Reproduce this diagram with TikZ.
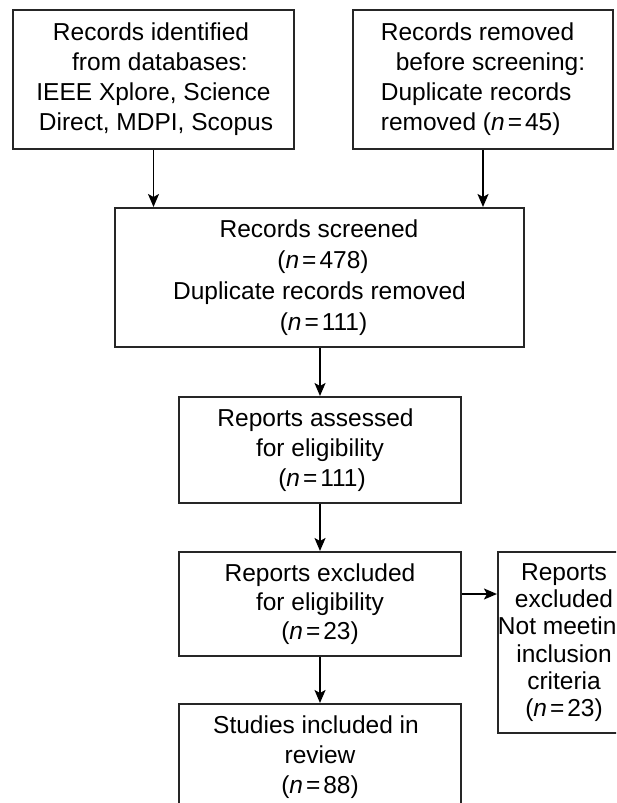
\documentclass[tikz,border=0pt]{standalone}
\usepackage{fontspec}
\setmainfont{Liberation Sans}
\usetikzlibrary{arrows.meta}
\newcommand{\ncount}[1]{(\textit{n}\hspace{3pt}=\hspace{3pt}#1)}
\begin{document}
\begin{tikzpicture}[x=1pt,y=-1pt,
  box/.style={draw=black!85, line width=2pt, inner sep=0pt, align=center,
    font=\fontsize{24.5}{30}\selectfont},
  arr/.style={line width=1.8pt, -{Stealth[length=13pt,width=11pt,inset=3pt]}}]
\clip (0,0) rectangle (616,803);
\fill[white] (0,0) rectangle (616,803);
\node[box, minimum width=281pt, minimum height=139pt] (A) at (153.5,79.5)
  {Records identified\hspace*{5pt}\\\hspace*{13pt}from databases:\\IEEE Xplore, Science\hspace*{7pt}\\\hspace*{5pt}Direct, MDPI, Scopus};
\node[box, align=left, minimum width=260pt, minimum height=139pt] (B) at (483,79.5)
  {Records removed\\\hspace*{15pt}before screening:\hspace*{8pt}\\Duplicate records\\removed \ncount{45}};
\node[box, minimum width=409pt, minimum height=139pt, font=\fontsize{24.5}{31}\selectfont] (S) at (319.5,277.5)
  {Records screened\hspace*{1pt}\\\hspace*{7pt}\ncount{478}\\Duplicate records removed\hspace*{41pt}\\\hspace*{8pt}\ncount{111}};
\node[box, minimum width=282pt, minimum height=106pt] (As) at (320,450)
  {Reports assessed\hspace*{9pt}\\for eligibility\hspace*{11pt}\\\hspace*{4pt}\ncount{111}};
\node[box, minimum width=282pt, minimum height=104pt, font=\fontsize{24.5}{29}\selectfont] (Ex) at (320,604)
  {Reports excluded\\for eligibility\\\ncount{23}};
\node[box, minimum width=130pt, minimum height=181pt, font=\fontsize{24.5}{27.2}\selectfont] (R) at (564,642.5)
  {Reports\\excluded\\Not meeting\\inclusion\\criteria\\\ncount{23}};
\node[box, minimum width=282pt, minimum height=106pt] (St) at (320,757)
  {Studies included in\hspace*{8pt}\\review\\\ncount{88}};
\draw[arr] (A.south) -- (A.south |- S.north);
\draw[arr] (B.south) -- (B.south |- S.north);
\draw[arr] (S.south -| As.north) -- (As.north);
\draw[arr] (As.south) -- (Ex.north);
\draw[arr] (Ex.south) -- (St.north);
\draw[arr] ([yshift=10pt]Ex.east) -- ([yshift=10pt]Ex.east -| R.west);
\end{tikzpicture}
\end{document}
